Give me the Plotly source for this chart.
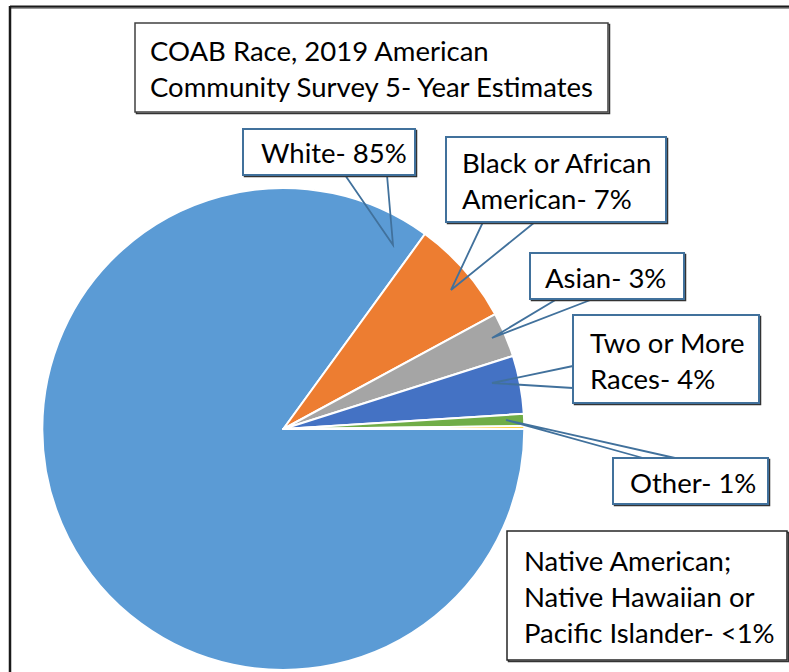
import plotly.graph_objects as go

W, H = 789, 672

# ---- data ----
categories = ["White", "Black or African American", "Asian", "Two or More Races", "Other",
              "Native American; Native Hawaiian or Pacific Islander"]
values = [85.0, 7.1, 3.0, 3.9, 0.8, 0.2]
colors = ["#5B9BD5", "#ED7D31", "#A5A5A5", "#4472C4", "#70AD47", "#FFC000"]
label_texts = ["White- 85%", "Black or African<br>American- 7%", "Asian- 3%",
               "Two or More<br>Races- 4%", "Other- 1%",
               "Native American;<br>Native Hawaiian or<br>Pacific Islander- <1%"]
title_text = "COAB Race, 2019 American<br>Community Survey 5- Year Estimates"


def px(x):
    return x / W


def py(y):
    return 1 - y / H


FONT = "Lato"
FS = 27.5

# pie geometry (pixels)
cx, cy, r = 283.3, 429.0, 241.0

fig = go.Figure(go.Pie(
    labels=categories, values=values, sort=False,
    direction="clockwise", rotation=90,
    marker=dict(colors=colors, line=dict(color="white", width=2)),
    textinfo="none", hoverinfo="label+percent", showlegend=False,
    domain=dict(x=[px(cx - r), px(cx + r)], y=[py(cy + r), py(cy - r)]),
))

shapes = []
annotations = []

# outer frame (top and left edges visible)
shapes.append(dict(type="line", xref="paper", yref="paper", x0=px(10), y0=py(8), x1=px(792), y1=py(8),
                   line=dict(color="#9a9a9a", width=2)))
shapes.append(dict(type="line", xref="paper", yref="paper", x0=px(10), y0=py(6.5), x1=px(792), y1=py(6.5),
                   line=dict(color="#1a1a1a", width=2)))
shapes.append(dict(type="line", xref="paper", yref="paper", x0=px(10), y0=py(6), x1=px(10), y1=py(676),
                   line=dict(color="#1a1a1a", width=2.5)))
# keep the right edge clean
shapes.append(dict(type="rect", xref="paper", yref="paper", x0=px(779), y0=py(528), x1=px(795), y1=py(9.5),
                   line=dict(width=0), fillcolor="white", layer="above"))

# label boxes: (x0, y0, x1, y1, text_left, border colour)
boxes = [
    (243, 129, 415, 175, 259, "#41719C"),
    (446, 137, 666, 222, 460, "#41719C"),
    (530, 253, 684, 299, 543, "#41719C"),
    (573, 315, 759, 403, 588, "#41719C"),
    (613, 458, 768, 504, 628, "#41719C"),
    (507, 531, 787, 660, 522, "#262626"),
]
pointers = [
    ((345, 175), (387, 175), (393, 245)),
    ((483, 222), (535, 222), (451, 290)),
    ((557, 299), (593, 299), (492, 338)),
    ((573, 366), (573, 388), (492, 383)),
    ((643, 458), (675, 458), (506, 420)),
    None,
]


def add_box(x0, y0, x1, y1, color, width=2):
    # soft shadow
    shapes.append(dict(type="rect", xref="paper", yref="paper",
                       x0=px(x0 + 1.5), y0=py(y1 + 1.5), x1=px(x1 + 1.5), y1=py(y0 + 1.5),
                       line=dict(color="#333333", width=1.5), fillcolor="rgba(0,0,0,0)", layer="above"))
    shapes.append(dict(type="rect", xref="paper", yref="paper",
                       x0=px(x0), y0=py(y1), x1=px(x1), y1=py(y0),
                       line=dict(color=color, width=width), fillcolor="white", layer="above"))


# title box
add_box(135, 23, 608, 112, "#404040", 1.5)
annotations.append(dict(xref="paper", yref="paper", x=px(148), y=py(69), xanchor="left", yanchor="middle",
                        text=title_text, showarrow=False, align="left",
                        font=dict(family=FONT, size=FS, color="black")))

for (x0, y0, x1, y1, tl, col), txt, ptr in zip(boxes, label_texts, pointers):
    if ptr is not None:
        (ax, ay), (bx, by), (tx, ty) = ptr
        path = f"M {px(ax)} {py(ay)} L {px(tx)} {py(ty)} L {px(bx)} {py(by)}"
        shapes.append(dict(type="path", xref="paper", yref="paper", path=path,
                           line=dict(color="#41719C", width=1.8), layer="above"))
    add_box(x0, y0, x1, y1, col, 2 if col != "#262626" else 1.5)
    annotations.append(dict(xref="paper", yref="paper", x=px(tl), y=py((y0 + y1) / 2 + 1),
                            xanchor="left", yanchor="middle", text=txt, showarrow=False, align="left",
                            font=dict(family=FONT, size=FS, color="black")))

fig.update_layout(
    width=W, height=H, margin=dict(l=0, r=0, t=0, b=0),
    paper_bgcolor="white", plot_bgcolor="white",
    shapes=shapes, annotations=annotations,
)

fig.write_html("out.html", config=dict(displayModeBar=False),
               post_script=("document.documentElement.style.margin='0px';"
                            "document.documentElement.style.overflow='hidden';"
                            "document.body.style.margin='0px';document.body.style.overflow='hidden';"))
